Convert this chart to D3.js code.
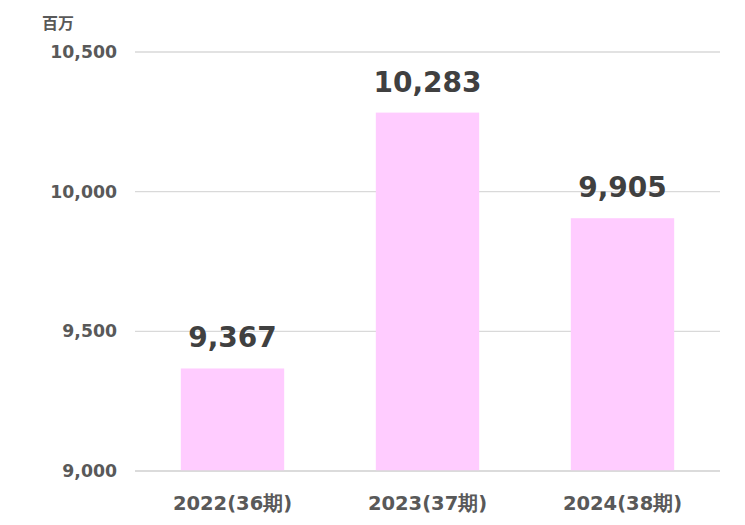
<!DOCTYPE html>
<html><head><meta charset="utf-8">
<script src="https://cdn.jsdelivr.net/npm/d3@7"></script>
<style>body{margin:0;background:#fff}svg{display:block}</style>
</head><body>
<svg id="c" width="745" height="525"></svg>
<script>
const categories = ["2022(36期)", "2023(37期)", "2024(38期)"];
const values = [9367, 10283, 9905];
const yTicks = [9000, 9500, 10000, 10500];
const unitLabel = "百万";

const svg = d3.select("#c");
const margin = {left:135, right:25, top:52, bottom:54};
const W = 745, H = 525;
const x = d3.scaleBand().domain(categories).range([margin.left, W - margin.right]).paddingInner(0.47).paddingOuter(0.235);
const y = d3.scaleLinear().domain([9000, 10500]).range([H - margin.bottom, margin.top]);
const font = "'DejaVu Sans', Verdana, sans-serif";

// gridlines
svg.append("g").selectAll("line").data(yTicks).join("line")
  .attr("x1", margin.left).attr("x2", W - margin.right)
  .attr("y1", d => y(d)).attr("y2", d => y(d))
  .attr("stroke", "#d9d9d9").attr("stroke-width", 1.3);

// y axis labels
const yAxis = d3.axisLeft(y).tickValues(yTicks).tickFormat(d3.format(",")).tickSize(0).tickPadding(18);
const ya = svg.append("g").attr("transform", `translate(${margin.left},0)`).call(yAxis);
ya.select(".domain").remove();
ya.selectAll("text").attr("font-family", font).attr("font-size", 17.3).attr("font-weight", "bold").attr("fill", "#595959");

// x axis labels
const xAxis = d3.axisBottom(x).tickSize(0).tickPadding(25);
const xa = svg.append("g").attr("transform", `translate(0,${H - margin.bottom})`).call(xAxis);
xa.select(".domain").remove();
xa.selectAll("text").attr("font-family", font).attr("font-size", 19.5).attr("font-weight", "bold").attr("fill", "#595959");

// bars
svg.append("g").selectAll("rect").data(values).join("rect")
  .attr("x", (d, i) => x(categories[i])).attr("width", x.bandwidth())
  .attr("y", d => y(d)).attr("height", d => y(9000) - y(d))
  .attr("fill", "#ffccff");

// baseline redraw
svg.append("line").attr("x1", margin.left).attr("x2", W - margin.right)
  .attr("y1", y(9000)).attr("y2", y(9000)).attr("stroke", "#d9d9d9").attr("stroke-width", 1.3);

// value labels
svg.append("g").selectAll("text").data(values).join("text")
  .attr("x", (d, i) => x(categories[i]) + x.bandwidth() / 2)
  .attr("y", d => y(d) - 21)
  .attr("text-anchor", "middle")
  .attr("font-family", font).attr("font-size", 28).attr("font-weight", "bold").attr("fill", "#404040")
  .text(d => d3.format(",")(d));

// unit label
svg.append("text").attr("x", 42).attr("y", 29)
  .attr("font-family", "'Noto Sans CJK JP', sans-serif").attr("font-size", 16).attr("font-weight", "bold").attr("fill", "#595959")
  .text(unitLabel);
</script>
</body></html>
